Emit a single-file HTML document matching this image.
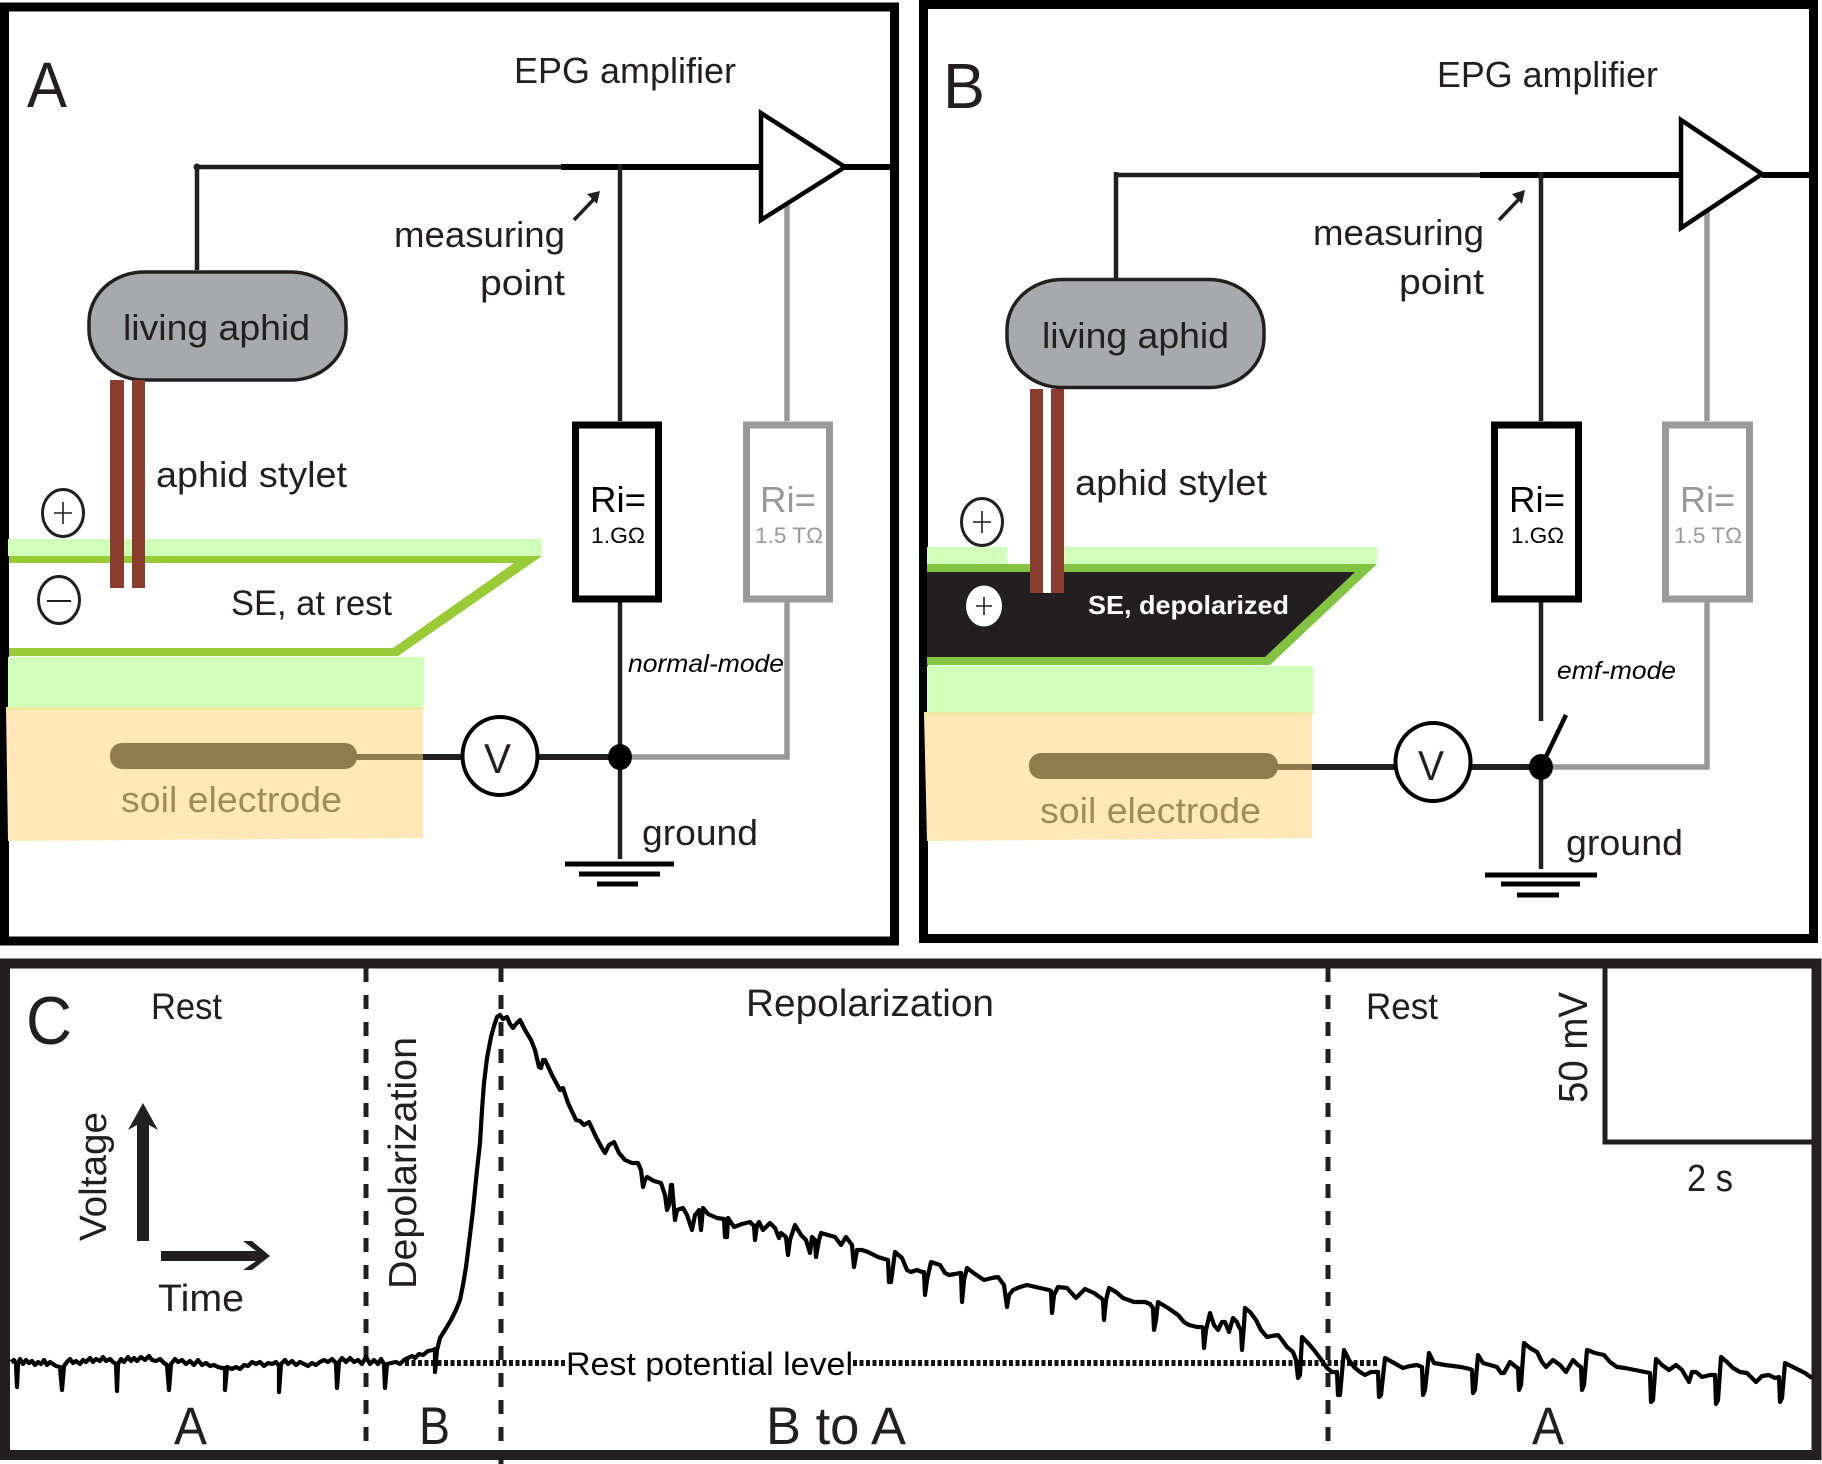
<!DOCTYPE html>
<html><head><meta charset="utf-8"><style>
html,body{margin:0;padding:0;background:#fff}
svg{display:block}
text{font-family:"Liberation Sans",sans-serif;fill:#231f20}
</style></head><body>
<svg xmlns="http://www.w3.org/2000/svg" width="1822" height="1464" viewBox="0 0 1822 1464">
<rect width="1822" height="1464" fill="#fff"/>

<!-- PANEL A -->
<rect x="4.5" y="7" width="890" height="934" fill="#fff" stroke="#000" stroke-width="9"/>
<rect x="8" y="539" width="534" height="17" fill="#d0ffb9"/>
<path fill-rule="evenodd" d="M9 556H542L398 656H9ZM9 563V648H393L514 563Z" fill="#98cb35"/>
<rect x="8" y="657" width="416" height="52" fill="#d0ffb9"/>
<path d="M6 707L423 709V838L8 841Z" fill="#fee8b8"/>
<rect x="6" y="707" width="417" height="3" fill="#eee8a0"/>
<rect x="110" y="743" width="247" height="26" rx="12" fill="#8f7b4c"/>
<rect x="355" y="754" width="68" height="6" fill="#8f7b4c"/>
<path d="M423 757H462M538 757H620" stroke="#231f20" stroke-width="6" fill="none"/>
<path d="M632 757H787V602M787 421V205" stroke="#999" stroke-width="5.5" fill="none"/>
<path d="M197 270V165M197 167H561" stroke="#231f20" stroke-width="4.5" fill="none"/>
<circle cx="197" cy="167" r="3.5" fill="#231f20"/>
<path d="M561 167H761M845 167H891" stroke="#000" stroke-width="6" fill="none"/>
<path d="M620 164V421M620 602V859" stroke="#231f20" stroke-width="4.5" fill="none"/>
<polygon points="761,113 845,167 761,220" fill="#fff" stroke="#000" stroke-width="4.5"/>
<rect x="89" y="272" width="257" height="108" rx="55" ry="50" fill="#a7a9ac" stroke="#231f20" stroke-width="3.5"/>
<text x="123" y="340" font-size="36" textLength="187" lengthAdjust="spacingAndGlyphs">living aphid</text>
<rect x="110" y="380" width="14" height="208" fill="#8a3d2e"/>
<rect x="132" y="380" width="13" height="208" fill="#8a3d2e"/>
<text x="27" y="107" font-size="64" textLength="40" lengthAdjust="spacingAndGlyphs">A</text>
<text x="514" y="83" font-size="36" textLength="222" lengthAdjust="spacingAndGlyphs">EPG amplifier</text>
<text x="394" y="247" font-size="36" textLength="171" lengthAdjust="spacingAndGlyphs">measuring</text>
<text x="480" y="295" font-size="36" textLength="85" lengthAdjust="spacingAndGlyphs">point</text>
<path d="M574 220L596 197" stroke="#231f20" stroke-width="3.5" fill="none"/>
<path d="M587 194L600 191L597 204Z" fill="#231f20"/>
<text x="156" y="487" font-size="36" textLength="191" lengthAdjust="spacingAndGlyphs">aphid stylet</text>
<rect x="575.500" y="425" width="83" height="174" fill="#fff" stroke="#000" stroke-width="7"/>
<rect x="746.500" y="425" width="83" height="174" fill="#fff" stroke="#999" stroke-width="7"/>
<text x="590" y="512" font-size="36" textLength="56" lengthAdjust="spacingAndGlyphs" style="fill:#000">Ri=</text>
<text x="591" y="543" font-size="22" textLength="54" lengthAdjust="spacingAndGlyphs" style="fill:#000">1.GΩ</text>
<text x="760" y="512" font-size="36" textLength="56" lengthAdjust="spacingAndGlyphs" style="fill:#999">Ri=</text>
<text x="755" y="543" font-size="22" textLength="68" lengthAdjust="spacingAndGlyphs" style="fill:#999">1.5 TΩ</text>
<ellipse cx="63" cy="513" rx="20.500" ry="23.500" fill="#fff" stroke="#231f20" stroke-width="3"/>
<path d="M54 513H72M63 502V524" stroke="#231f20" stroke-width="1.600"/>
<ellipse cx="59" cy="600" rx="20.500" ry="23.500" fill="#fff" stroke="#231f20" stroke-width="3"/>
<path d="M47 601H71" stroke="#231f20" stroke-width="2"/>
<text x="231" y="615" font-size="35" textLength="161" lengthAdjust="spacingAndGlyphs">SE, at rest</text>
<text x="628" y="672" font-size="25" font-style="italic" textLength="156" lengthAdjust="spacingAndGlyphs" style="fill:#000">normal-mode</text>
<ellipse cx="500" cy="756" rx="37.500" ry="39" fill="#fff" stroke="#000" stroke-width="4"/>
<text x="484" y="773" font-size="42" textLength="27" lengthAdjust="spacingAndGlyphs">V</text>
<ellipse cx="620" cy="757" rx="12" ry="13" fill="#000"/>
<text x="121" y="812" font-size="36" textLength="221" lengthAdjust="spacingAndGlyphs" style="fill:#a08a5a">soil electrode</text>
<text x="642" y="845" font-size="36" textLength="116" lengthAdjust="spacingAndGlyphs">ground</text>
<path d="M565 864H674M579 874H660M597 884H638" stroke="#000" stroke-width="5"/>

<!-- PANEL B -->
<rect x="923.500" y="4.500" width="890" height="934" fill="#fff" stroke="#000" stroke-width="9"/>
<rect x="927" y="547" width="80" height="17" fill="#d0ffb9"/>
<rect x="1064" y="547" width="313" height="17" fill="#d0ffb9"/>
<polygon points="927,564 1377,564 1270,665 927,665" fill="#82c341"/>
<polygon points="927,572 1355,572 1265,657 927,657" fill="#231f20"/>
<rect x="927" y="666" width="386" height="49" fill="#d0ffb9"/>
<path d="M924 712L1312 716V838L927 841Z" fill="#fee8b8"/>
<rect x="924" y="712" width="388" height="4" fill="#eee8a0"/>
<rect x="1029" y="753" width="249" height="26" rx="12" fill="#8f7b4c"/>
<rect x="1276" y="764" width="36" height="6" fill="#8f7b4c"/>
<path d="M1312 767H1396M1470 767H1541" stroke="#231f20" stroke-width="6" fill="none"/>
<path d="M1553 767H1707V602M1707 421V212" stroke="#999" stroke-width="5.500" fill="none"/>
<path d="M1116 279V172M1114 175H1480" stroke="#231f20" stroke-width="4.500" fill="none"/>
<path d="M1480 175H1681M1762 175H1810" stroke="#000" stroke-width="6" fill="none"/>
<path d="M1541 172V421M1541 602V721M1541 767V869" stroke="#231f20" stroke-width="4.500" fill="none"/>
<polygon points="1681,120 1762,174 1681,228" fill="#fff" stroke="#000" stroke-width="4.500"/>
<rect x="1007" y="279.500" width="257" height="108" rx="55" ry="50" fill="#a7a9ac" stroke="#231f20" stroke-width="3.500"/>
<text x="1042" y="348" font-size="36" textLength="187" lengthAdjust="spacingAndGlyphs">living aphid</text>
<rect x="1043" y="389" width="8" height="204" fill="#fff"/>
<rect x="1030" y="389" width="13" height="204" fill="#8a3d2e"/>
<rect x="1051" y="389" width="13" height="204" fill="#8a3d2e"/>
<text x="943" y="108" font-size="64" textLength="42" lengthAdjust="spacingAndGlyphs">B</text>
<text x="1437" y="87" font-size="36" textLength="221" lengthAdjust="spacingAndGlyphs">EPG amplifier</text>
<text x="1313" y="245" font-size="36" textLength="171" lengthAdjust="spacingAndGlyphs">measuring</text>
<text x="1399" y="294" font-size="36" textLength="85" lengthAdjust="spacingAndGlyphs">point</text>
<path d="M1499 220L1521 197" stroke="#231f20" stroke-width="3.500" fill="none"/>
<path d="M1512 194L1525 190L1522 204Z" fill="#231f20"/>
<text x="1075" y="495" font-size="36" textLength="192" lengthAdjust="spacingAndGlyphs">aphid stylet</text>
<rect x="1494.500" y="425" width="84" height="174" fill="#fff" stroke="#000" stroke-width="7"/>
<rect x="1665.500" y="425" width="84" height="174" fill="#fff" stroke="#999" stroke-width="7"/>
<text x="1509" y="512" font-size="36" textLength="56" lengthAdjust="spacingAndGlyphs" style="fill:#000">Ri=</text>
<text x="1511" y="543" font-size="22" textLength="53" lengthAdjust="spacingAndGlyphs" style="fill:#000">1.GΩ</text>
<text x="1680" y="512" font-size="36" textLength="55" lengthAdjust="spacingAndGlyphs" style="fill:#999">Ri=</text>
<text x="1674" y="543" font-size="22" textLength="68" lengthAdjust="spacingAndGlyphs" style="fill:#999">1.5 TΩ</text>
<ellipse cx="982" cy="522" rx="20.500" ry="23.500" fill="#fff" stroke="#231f20" stroke-width="3"/>
<path d="M973 522H991M982 511V533" stroke="#231f20" stroke-width="1.600"/>
<ellipse cx="984" cy="606" rx="18" ry="20.500" fill="#fff"/>
<path d="M976 606H992M984 597V615" stroke="#231f20" stroke-width="1.600"/>
<text x="1088" y="614" font-size="26" font-weight="bold" textLength="201" lengthAdjust="spacingAndGlyphs" style="fill:#fff">SE, depolarized</text>
<text x="1557" y="679" font-size="25" font-style="italic" textLength="119" lengthAdjust="spacingAndGlyphs" style="fill:#000">emf-mode</text>
<ellipse cx="1433" cy="762" rx="37.500" ry="39" fill="#fff" stroke="#000" stroke-width="4"/>
<text x="1418" y="780" font-size="42" textLength="26" lengthAdjust="spacingAndGlyphs">V</text>
<path d="M1541 767L1566 715" stroke="#000" stroke-width="4.500"/>
<ellipse cx="1541" cy="767" rx="12" ry="13" fill="#000"/>
<text x="1040" y="823" font-size="36" textLength="221" lengthAdjust="spacingAndGlyphs" style="fill:#a08a5a">soil electrode</text>
<text x="1566" y="855" font-size="36" textLength="117" lengthAdjust="spacingAndGlyphs">ground</text>
<path d="M1485 875H1597M1501 884H1580M1517 895H1559" stroke="#000" stroke-width="5"/>

<!-- PANEL C -->
<rect x="5" y="963.500" width="1811.500" height="491.500" fill="#fff" stroke="#231f20" stroke-width="10"/>
<path d="M1605 968V1142H1812" fill="none" stroke="#231f20" stroke-width="5"/>
<path d="M366 968V1450" stroke="#231f20" stroke-width="5" stroke-dasharray="14 13" fill="none"/>
<path d="M501 968V1464" stroke="#231f20" stroke-width="5" stroke-dasharray="14 13" fill="none"/>
<path d="M1328 968V1448" stroke="#231f20" stroke-width="5" stroke-dasharray="14 13" fill="none"/>
<path d="M405 1363H566M853 1363H1378" stroke="#111" stroke-width="6" stroke-dasharray="4 2.500" fill="none"/>
<polyline fill="none" stroke="#000" stroke-width="4.200" stroke-linejoin="round" points="11,1362 14,1360 16,1364 17,1387 18,1364 20,1359 23,1364 26,1360 29,1363 32,1361 35,1365 38,1362 41,1364 44,1360 47,1365 50,1362 53,1364 56,1366 60,1367 62,1390 64,1366 67,1362 70,1359 73,1363 76,1361 80,1364 83,1360 86,1362 90,1358 93,1362 96,1359 100,1361 103,1357 106,1361 110,1359 113,1362 116,1364 117,1391 118,1364 121,1359 124,1362 128,1357 131,1361 134,1358 137,1361 141,1357 145,1360 149,1356 152,1360 156,1361 160,1359 164,1363 167,1365 169,1390 171,1364 175,1359 178,1362 182,1360 186,1364 190,1361 194,1365 198,1360 202,1365 206,1363 210,1366 214,1365 218,1367 222,1368 225,1368 225,1390 227,1367 232,1369 236,1367 240,1369 244,1365 248,1366 252,1362 256,1364 260,1362 264,1366 268,1363 272,1364 276,1362 279,1366 279,1392 281,1364 285,1360 288,1364 292,1361 296,1365 300,1362 304,1364 308,1366 312,1363 316,1365 320,1362 324,1360 328,1362 332,1359 336,1363 337,1388 339,1362 342,1358 346,1362 350,1358 354,1362 358,1360 362,1364 366,1357 370,1364 374,1360 378,1364 381,1359 384,1364 385,1388 387,1364 391,1363 396,1362 400,1364 404,1360 408,1358 412,1356 415,1358 419,1354 423,1355 428,1351 433,1350 435,1349 435,1372 437,1350 440,1338 445,1330 451,1320 456,1310 460,1300 463,1285 466,1267 470,1235 473,1210 477,1170 480,1143 482,1110 484,1083 487,1058 491,1037 494,1026 497,1017 500,1015 503,1019 507,1017 510,1024 513,1028 516,1024 520,1020 525,1030 531,1040 535,1050 539,1067 541,1068 543,1060 545,1060 552,1075 560,1090 563,1088 568,1103 576,1120 580,1121 584,1125 589,1122 596,1137 603,1150 605,1153 609,1145 614,1142 619,1153 625,1160 632,1163 638,1163 641,1170 643,1187 645,1180 647,1177 654,1181 661,1183 665,1195 667,1210 669,1205 671,1185 672,1185 675,1220 677,1210 683,1208 687,1215 692,1230 695,1215 699,1210 701,1230 703,1208 708,1214 717,1218 724,1219 725,1237 727,1237 728,1218 734,1227 742,1224 750,1222 754,1226 755,1240 757,1225 759,1222 763,1230 770,1223 775,1228 779,1238 781,1233 786,1237 788,1255 790,1240 795,1225 801,1235 806,1240 810,1253 812,1237 815,1240 816,1257 819,1240 821,1233 828,1235 835,1237 841,1245 846,1237 852,1245 854,1267 857,1250 862,1250 868,1252 878,1257 888,1260 889,1282 891,1282 895,1252 902,1258 907,1270 911,1272 917,1270 922,1272 924,1272 925,1295 927,1280 931,1262 940,1265 945,1273 949,1275 955,1274 960,1273 961,1273 962,1302 964,1280 967,1268 975,1274 984,1280 992,1278 998,1277 1004,1285 1007,1307 1009,1295 1013,1290 1020,1287 1027,1285 1040,1288 1049,1290 1051,1291 1052,1313 1054,1295 1058,1287 1067,1288 1076,1298 1085,1289 1094,1293 1101,1298 1103,1300 1104,1320 1106,1300 1109,1288 1116,1292 1123,1298 1134,1302 1145,1302 1150,1304 1153,1308 1154,1330 1156,1320 1158,1302 1168,1308 1178,1315 1184,1322 1189,1325 1197,1327 1202,1327 1203,1328 1204,1348 1206,1330 1210,1313 1214,1325 1218,1330 1222,1322 1225,1322 1229,1332 1233,1318 1237,1322 1239,1327 1241,1330 1242,1350 1244,1325 1245,1308 1250,1312 1256,1320 1261,1330 1267,1337 1272,1336 1278,1335 1282,1340 1287,1347 1293,1352 1296,1360 1298,1378 1300,1375 1302,1337 1308,1343 1314,1350 1320,1358 1327,1368 1332,1372 1337,1372 1338,1395 1340,1395 1344,1350 1349,1360 1354,1367 1360,1372 1365,1375 1371,1372 1378,1372 1379,1397 1381,1395 1385,1358 1394,1363 1403,1368 1410,1366 1417,1365 1422,1367 1423,1395 1425,1390 1429,1353 1434,1363 1445,1365 1461,1367 1470,1369 1472,1370 1473,1393 1475,1390 1478,1355 1483,1363 1490,1365 1497,1367 1501,1373 1504,1373 1510,1362 1516,1367 1518,1368 1519,1390 1521,1385 1524,1343 1530,1348 1537,1352 1542,1362 1546,1367 1553,1360 1560,1365 1566,1372 1573,1360 1578,1365 1581,1367 1582,1390 1584,1385 1587,1350 1595,1353 1604,1355 1610,1362 1617,1367 1625,1368 1635,1370 1645,1372 1650,1373 1651,1402 1653,1400 1656,1359 1662,1365 1669,1370 1676,1365 1682,1370 1689,1382 1692,1372 1696,1372 1702,1377 1710,1375 1715,1375 1716,1404 1718,1400 1721,1357 1727,1362 1733,1368 1740,1372 1747,1373 1752,1378 1756,1382 1762,1376 1769,1375 1775,1378 1779,1377 1780,1402 1782,1398 1785,1363 1795,1368 1805,1373 1812,1378"/>
<text x="26" y="1044" font-size="68" textLength="46" lengthAdjust="spacingAndGlyphs">C</text>
<text x="151" y="1019" font-size="37" textLength="71" lengthAdjust="spacingAndGlyphs">Rest</text>
<text x="1366" y="1019" font-size="37" textLength="72" lengthAdjust="spacingAndGlyphs">Rest</text>
<text x="746" y="1016" font-size="38" textLength="248" lengthAdjust="spacingAndGlyphs">Repolarization</text>
<text transform="translate(106 1241) rotate(-90)" font-size="38" textLength="129" lengthAdjust="spacingAndGlyphs">Voltage</text>
<text transform="translate(416 1289) rotate(-90)" font-size="39" textLength="252" lengthAdjust="spacingAndGlyphs">Depolarization</text>
<text transform="translate(1587 1103) rotate(-90)" font-size="41" textLength="111" lengthAdjust="spacingAndGlyphs">50 mV</text>
<text x="1687" y="1191" font-size="38" textLength="46" lengthAdjust="spacingAndGlyphs">2 s</text>
<text x="158" y="1311" font-size="38" textLength="86" lengthAdjust="spacingAndGlyphs">Time</text>
<polygon points="143,1103 158,1130 149,1125 149,1241 137,1241 137,1125 128,1130" fill="#231f20"/>
<polygon points="161,1251 256,1251 243,1241 252,1241 270,1256 252,1270 243,1270 256,1261 161,1261" fill="#231f20"/>
<text x="174" y="1444" font-size="53" textLength="33" lengthAdjust="spacingAndGlyphs">A</text>
<text x="419" y="1444" font-size="53" textLength="31" lengthAdjust="spacingAndGlyphs">B</text>
<text x="766" y="1444" font-size="53" textLength="140" lengthAdjust="spacingAndGlyphs">B to A</text>
<text x="1532" y="1444" font-size="53" textLength="32" lengthAdjust="spacingAndGlyphs">A</text>
<text x="566" y="1375" font-size="32" textLength="287" lengthAdjust="spacingAndGlyphs" style="fill:#000">Rest potential level</text>
</svg>
</body></html>
